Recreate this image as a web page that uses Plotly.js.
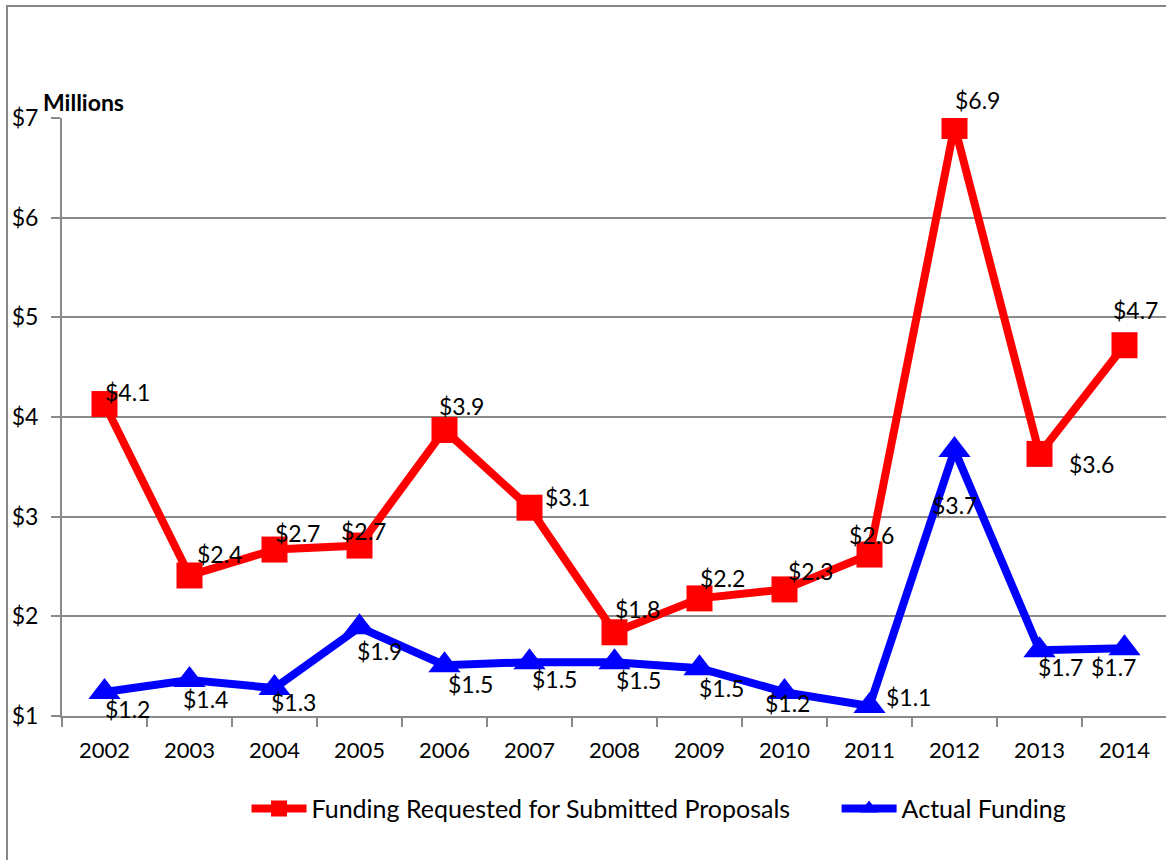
<!DOCTYPE html>
<html>
<head>
<meta charset="utf-8">
<script src="https://cdn.plot.ly/plotly-3.0.1.min.js"></script>
<style>
html,body{margin:0;padding:0;overflow:hidden;background:#fff;}
#chart{width:1167px;height:860px;}
</style>
</head>
<body>
<div id="chart"></div>
<script>
// ---- data ----
const years = ["2002","2003","2004","2005","2006","2007","2008","2009","2010","2011","2012","2013","2014"];
const requested = [4.13, 2.41, 2.67, 2.71, 3.87, 3.09, 1.84, 2.18, 2.27, 2.62, 6.92, 3.63, 4.72];
const actual = [1.24, 1.36, 1.28, 1.89, 1.51, 1.54, 1.54, 1.48, 1.24, 1.10, 3.67, 1.66, 1.68];
const yTickVals = [1, 2, 3, 4, 5, 6, 7];
const yTickText = ["$1", "$2", "$3", "$4", "$5", "$6", "$7"];
const seriesNames = ["Funding Requested for Submitted Proposals", "Actual Funding"];
const unitLabel = "Millions";

// ---- label offsets (style, px) ----
const reqOffX = [23, 30, 23, 4, 17, 38, 23, 23, 26, 2, 23, 52, 11];
const reqOffY = [12, 21, 17, 15, 24, 11, 23, 20, 18, 20, 26, -10, 35];
const actOffX = [23, 16, 19, 20, 26, 25, 24, 22, 3, 39, 0, 21, -11];
const actOffY = [-17, -19, -14, -24, -19, -17, -18, -20, -11, 9, -55, -17, -19];

const FONT = "Lato, 'Open Sans', sans-serif";
const fmt = v => "$" + v.toFixed(1);

const annotations = [];
years.forEach((yr, i) => {
  annotations.push({xref: "x", yref: "y", x: i, y: requested[i], text: fmt(requested[i]), showarrow: false,
    xshift: reqOffX[i], yshift: reqOffY[i], font: {family: FONT, size: 23, color: "#000"}});
  annotations.push({xref: "x", yref: "y", x: i, y: actual[i], text: fmt(actual[i]), showarrow: false,
    xshift: actOffX[i], yshift: actOffY[i], font: {family: FONT, size: 23, color: "#000"}});
});
annotations.push({xref: "paper", yref: "paper", x: -0.019, y: 1.027, xanchor: "left", yanchor: "middle",
  text: "<b>" + unitLabel + "</b>", showarrow: false, font: {family: FONT, size: 23, color: "#000"}});

const traces = [
  {x: years, y: requested, name: seriesNames[0], type: "scatter", mode: "lines+markers", legend: "legend",
   line: {color: "#ff0000", width: 8}, marker: {symbol: "square", size: 26, color: "#ff0000"}},
  {x: years, y: actual, name: seriesNames[1], type: "scatter", mode: "lines+markers", legend: "legend2",
   line: {color: "#0000ff", width: 8}, marker: {symbol: "triangle-up", size: 28, color: "#0000ff"}}
];

const legendCommon = {orientation: "h", xanchor: "left", y: -0.155, yanchor: "middle",
  font: {family: FONT, size: 25, color: "#000"}, itemwidth: 55, bgcolor: "rgba(0,0,0,0)"};

const layout = {
  width: 1167, height: 860,
  margin: {l: 62, r: 0, t: 118, b: 144},
  paper_bgcolor: "#fff", plot_bgcolor: "#fff",
  font: {family: FONT, size: 22, color: "#000"},
  showlegend: true,
  legend: Object.assign({}, legendCommon, {x: 0.167}),
  legend2: Object.assign({}, legendCommon, {x: 0.701}),
  xaxis: {type: "category", range: [-0.5, 12.5], showgrid: false, zeroline: false,
    showline: true, linecolor: "#8a8a8a", linewidth: 2,
    ticks: "outside", tickson: "boundaries", ticklen: 9, tickwidth: 2, tickcolor: "#8a8a8a",
    ticklabelstandoff: 14, tickfont: {family: FONT, size: 22, color: "#000"}, fixedrange: true},
  yaxis: {range: [1, 7], tickvals: yTickVals, ticktext: yTickText,
    showgrid: true, gridcolor: "#8a8a8a", gridwidth: 2, zeroline: false,
    showline: true, linecolor: "#8a8a8a", linewidth: 2,
    ticks: "outside", ticklen: 9, tickwidth: 2, tickcolor: "#8a8a8a",
    ticklabelstandoff: 8, tickfont: {family: FONT, size: 23, color: "#000"}, fixedrange: true},
  shapes: [
    {type: "rect", xref: "paper", yref: "paper", x0: -0.0498, x1: 1.05, y0: -0.3, y1: 1.1875,
     line: {color: "#868686", width: 2}, fillcolor: "rgba(0,0,0,0)", layer: "below"}
  ],
  annotations: annotations
};

Plotly.newPlot("chart", traces, layout, {displayModeBar: false, staticPlot: true});
</script>
</body>
</html>
